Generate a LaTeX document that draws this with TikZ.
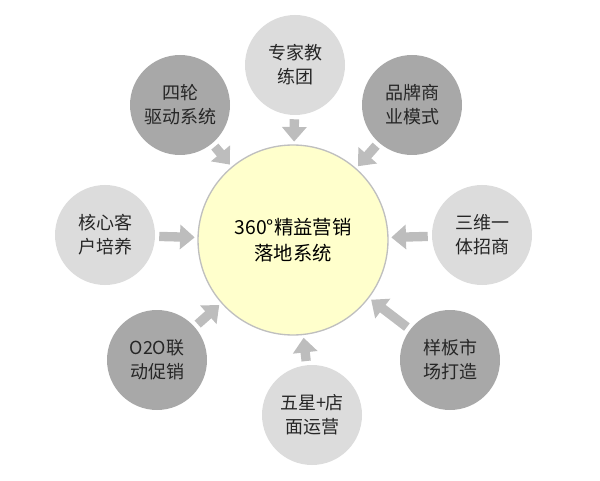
\documentclass[tikz,border=0pt]{standalone}
\usepackage{fontspec}
\setmainfont{Noto Sans CJK SC}
\usetikzlibrary{arrows.meta}
\definecolor{lg}{HTML}{DCDCDC}
\definecolor{dg}{HTML}{A8A8A8}
\definecolor{ar}{HTML}{BDBDBD}
\definecolor{cen}{HTML}{FFFFCC}
\begin{document}
\begin{tikzpicture}[x=0.75pt,y=-0.75pt,
  outer/.style={circle,minimum size=100*0.75pt,inner sep=0pt,align=center,font=\fontsize{13.5}{18}\selectfont,text=black!85},
  light/.style={outer,fill=lg},
  dark/.style={outer,fill=dg},
  arr/.style={draw=ar,line width=7pt,-{Triangle[width=18pt,length=11pt]},shorten <=3pt,shorten >=2pt}]
\useasboundingbox (0,0) rectangle (600,481);
\node[circle,minimum size=190*0.75pt,fill=cen,draw=black!25,line width=1pt,align=center,font=\fontsize{14.5}{20}\selectfont] (c) at (293,240) {360°精益营销\\落地系统};
\node[light] (a) at (295,65) {专家教\\练团};
\node[dark] (b) at (180,105) {四轮\\驱动系统};
\node[dark] (d) at (412,105) {品牌商\\业模式};
\node[light] (e) at (105,235) {核心客\\户培养};
\node[light] (f) at (482,235) {三维一\\体招商};
\node[dark] (g) at (157,360) {O2O联\\动促销};
\node[dark] (h) at (450,360) {样板市\\场打造};
\node[light] (i) at (312,415) {五星+店\\面运营};
\foreach \n in {a,b,d,e,f,g,h,i} \draw[arr] (\n) -- (c);
\end{tikzpicture}
\end{document}
